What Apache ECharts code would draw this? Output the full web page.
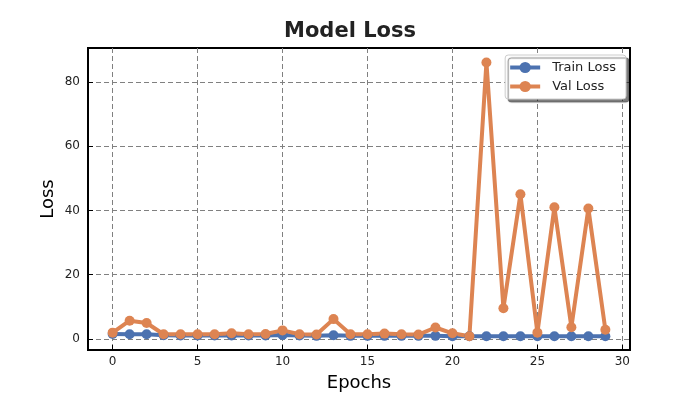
<!DOCTYPE html>
<html>
<head>
<meta charset="utf-8">
<script src="https://cdn.jsdelivr.net/npm/echarts@6/dist/echarts.min.js"></script>
<style>
html, body { margin: 0; padding: 0; background: #fff; }
#main { width: 700px; height: 400px; }
</style>
</head>
<body>
<div id="main"></div>
<script>
// epochs and loss values
var epochs = [0,1,2,3,4,5,6,7,8,9,10,11,12,13,14,15,16,17,18,19,20,21,22,23,24,25,26,27,28,29];
var trainLoss = [1.6,1.5,1.5,1.2,1.1,1.1,1.1,1.1,1.1,1.1,1.3,1.1,1.0,1.2,1.0,1.0,1.0,1.0,1.0,1.0,0.9,0.9,0.9,0.9,0.9,0.9,0.9,0.9,0.9,0.9];
var valLoss = [2.0,5.7,5.0,1.5,1.5,1.5,1.5,1.8,1.5,1.6,2.7,1.5,1.4,6.2,1.5,1.5,1.7,1.5,1.4,3.6,1.8,0.9,86,9.6,45,2.0,41,3.7,40.6,2.9];
var xTicks = [0,5,10,15,20,25,30];
var yTicks = [0,20,40,60,80];

var FONT = 'DejaVu Sans';

function pairs(ys) {
    var out = [];
    for (var i = 0; i < epochs.length; i++) out.push([epochs[i], ys[i]]);
    return out;
}

var chart = echarts.init(document.getElementById('main'));

var gridDash = { color: '#808080', width: 1, type: [5, 3] };

chart.setOption({
    animation: false,
    textStyle: { fontFamily: FONT },
    title: {
        text: 'Model Loss',
        left: 'center',
        top: 16,
        textStyle: { fontFamily: FONT, fontSize: 21, fontWeight: 'bold', color: '#222' }
    },
    legend: {
        right: 74,
        top: 55,
        orient: 'vertical',
        itemGap: 6,
        itemWidth: 30,
        itemHeight: 14,
        padding: [6, 10, 6, 3],
        backgroundColor: '#fff',
        borderColor: '#ccc',
        borderWidth: 1,
        borderRadius: 3,
        shadowColor: 'rgba(0,0,0,0.5)',
        shadowOffsetX: 3,
        shadowOffsetY: 3,
        shadowBlur: 1,
        lineStyle: { width: 4 },
        itemStyle: { borderWidth: 0 },
        textStyle: { fontFamily: FONT, fontSize: 13, color: '#222', padding: [0, 0, 0, 7] },
        data: ['Train Loss', 'Val Loss']
    },
    grid: {
        left: 88, right: 70, top: 48, bottom: 50,
        show: true,
        borderColor: '#000',
        borderWidth: 2
    },
    xAxis: {
        type: 'value',
        min: -1.45,
        max: 30.45,
        name: 'Epochs',
        nameLocation: 'middle',
        nameGap: 24,
        nameTextStyle: { fontFamily: FONT, fontSize: 18, color: '#000' },
        axisLine: { show: true, onZero: false, lineStyle: { color: '#000', width: 2 } },
        axisTick: { show: true, inside: true, length: 5, customValues: xTicks, lineStyle: { color: '#000' } },
        axisLabel: { customValues: xTicks, fontSize: 12, color: '#222', margin: 6 },
        splitLine: { show: true, lineStyle: gridDash }
    },
    yAxis: {
        type: 'value',
        min: -3.4,
        max: 90.5,
        name: 'Loss',
        nameLocation: 'middle',
        nameGap: 31,
        nameMoveOverlap: false,
        nameTextStyle: { fontFamily: FONT, fontSize: 18, color: '#000' },
        axisLine: { show: true, onZero: false, lineStyle: { color: '#000', width: 2 } },
        axisTick: { show: true, inside: true, length: 5, customValues: yTicks, lineStyle: { color: '#000' } },
        axisLabel: { customValues: yTicks, fontSize: 12, color: '#222', margin: 8 },
        splitLine: { show: true, lineStyle: gridDash }
    },
    series: [{
        name: 'Train Loss',
        type: 'line',
        data: pairs(trainLoss),
        symbol: 'circle',
        symbolSize: 10,
        color: '#4C72B0',
        lineStyle: { width: 4 }
    }, {
        name: 'Val Loss',
        type: 'line',
        data: pairs(valLoss),
        symbol: 'circle',
        symbolSize: 10,
        color: '#DD8452',
        lineStyle: { width: 4 }
    }]
});
</script>
</body>
</html>
